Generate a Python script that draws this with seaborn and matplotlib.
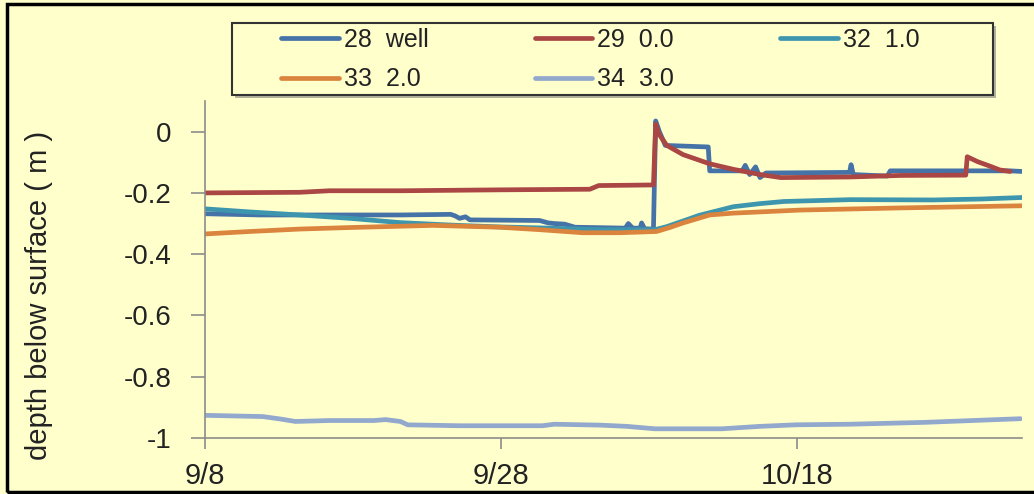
import numpy as np
import pandas as pd
import seaborn as sns
import matplotlib.pyplot as plt
import matplotlib.dates as mdates
from matplotlib.patches import Rectangle
from matplotlib.ticker import FuncFormatter

sns.set_theme(style="ticks")
plt.rcParams['font.family'] = ['Liberation Sans', 'DejaVu Sans']
plt.rcParams['axes.unicode_minus'] = False

bg = "#FFFFCC"
start = pd.Timestamp("2011-09-08")

# days after 9/8 and depth below surface (m)
days_28 = [0, 3.7, 8.4, 13.2, 16.6, 16.9, 17.2, 17.6, 17.9, 22.6, 23.2, 23.6, 24.3, 25.0,
           28.4, 28.6, 28.9, 29.4, 29.5, 29.7, 30.3, 30.45, 30.7, 31.1, 34.0, 34.1,
           36.3, 36.5, 36.8, 37.2, 37.5, 37.9, 43.55, 43.65, 43.8, 46.1, 46.3, 54.4, 55.2]
well_28 = [-0.268, -0.272, -0.272, -0.272, -0.270, -0.275, -0.283, -0.278, -0.288, -0.290,
           -0.298, -0.300, -0.302, -0.312, -0.315, -0.300, -0.315, -0.315, -0.298, -0.317,
           -0.318, 0.035, 0.0, -0.045, -0.050, -0.128, -0.128, -0.110, -0.140, -0.115,
           -0.150, -0.135, -0.133, -0.108, -0.140, -0.145, -0.128, -0.128, -0.130]

days_29 = [0, 6.4, 8.4, 13.2, 19.9, 26.0, 26.6, 30.3, 30.45, 30.7, 31.2, 32.3, 34.1, 35.7,
           37.5, 38.9, 43.6, 47.0, 51.4, 51.5, 52.2, 53.0, 53.7, 54.4]
d00_29 = [-0.200, -0.198, -0.193, -0.193, -0.190, -0.188, -0.176, -0.174, 0.025, -0.010,
          -0.045, -0.075, -0.105, -0.123, -0.140, -0.150, -0.148, -0.143, -0.142, -0.082,
          -0.098, -0.112, -0.125, -0.130]

days_32 = [0, 3.0, 6.4, 9.8, 13.2, 16.6, 19.9, 23.3, 26.7, 30.4, 31.2, 32.4, 33.4, 34.8,
           35.7, 37.5, 39.1, 43.6, 49.2, 52.4, 55.2]
d10_32 = [-0.252, -0.262, -0.272, -0.283, -0.297, -0.305, -0.311, -0.315, -0.320, -0.320,
          -0.310, -0.290, -0.273, -0.256, -0.245, -0.235, -0.228, -0.222, -0.223, -0.220,
          -0.215]

days_33 = [0, 3.0, 6.4, 9.8, 15.4, 19.9, 22.6, 25.5, 28.0, 30.5, 31.4, 32.3, 34.1, 35.7,
           40.2, 47.0, 55.2]
d20_33 = [-0.334, -0.326, -0.318, -0.313, -0.306, -0.312, -0.320, -0.330, -0.330, -0.326,
          -0.313, -0.298, -0.272, -0.266, -0.256, -0.249, -0.242]

days_34 = [0, 3.9, 5.1, 6.1, 8.4, 11.4, 12.2, 13.2, 13.7, 17.2, 22.8, 23.6, 26.7, 28.5,
           30.4, 34.9, 37.5, 39.9, 43.6, 48.6, 55.1]
d30_34 = [-0.926, -0.930, -0.938, -0.946, -0.943, -0.943, -0.940, -0.946, -0.957, -0.960,
          -0.960, -0.955, -0.958, -0.962, -0.970, -0.970, -0.962, -0.957, -0.955, -0.949,
          -0.937]

labels = ["28  well", "29  0.0", "32  1.0", "33  2.0", "34  3.0"]
colors = ["#4572A7", "#AA4643", "#3D96AE", "#DB843D", "#92A8CD"]

frames = []
for lab, d, v in zip(labels, [days_28, days_29, days_32, days_33, days_34],
                     [well_28, d00_29, d10_32, d20_33, d30_34]):
    frames.append(pd.DataFrame({"date": start + pd.to_timedelta(d, unit="D"),
                                "depth": v, "series": lab}))
df = pd.concat(frames, ignore_index=True)

fig = plt.figure(figsize=(10.34, 4.94), dpi=100, facecolor=bg)
ax = fig.add_axes([205 / 1034, 1 - 438 / 494, 817 / 1034, 337 / 494])
ax.set_facecolor(bg)

sns.lineplot(data=df, x="date", y="depth", hue="series", hue_order=labels,
             palette=dict(zip(labels, colors)), estimator=None, sort=True,
             linewidth=3.4, ax=ax)

ax.set_xlim(start, start + pd.Timedelta(days=55.2))
ax.set_ylim(-1, 0.1)
ax.set_xticks([start, start + pd.Timedelta(days=20), start + pd.Timedelta(days=40)])
ax.xaxis.set_major_formatter(mdates.DateFormatter("%-m/%-d"))
ax.set_yticks(np.arange(0, -1.01, -0.2))
ax.yaxis.set_major_formatter(FuncFormatter(lambda v, p: "%g" % round(v, 1)))

for s in ["top", "right"]:
    ax.spines[s].set_visible(False)
for s in ["left", "bottom"]:
    ax.spines[s].set_color("#8C8C8C")
    ax.spines[s].set_linewidth(1.2)
ax.tick_params(axis="both", colors="#8C8C8C", labelcolor="#222222", width=1.2)
ax.tick_params(axis="y", length=10, pad=14, labelsize=20)
ax.tick_params(axis="x", length=8, pad=9.5, labelsize=21)
ax.set_xlabel("")
ax.set_ylabel("depth below surface ( m )", fontsize=21, color="#222222")
ax.yaxis.set_label_coords(-0.186, 0.424)

# legend box with a small shadow, entries laid out in rows
fig.patches.append(Rectangle((235 / 1034, 1 - 98 / 494), 761 / 1034, 72 / 494,
                             transform=fig.transFigure, facecolor="#7F7F7F",
                             edgecolor="none", alpha=0.6, zorder=1))
fig.patches.append(Rectangle((232 / 1034, 1 - 95 / 494), 761 / 1034, 72 / 494,
                             transform=fig.transFigure, facecolor=bg,
                             edgecolor="#333333", linewidth=1.5, zorder=2))
handles, labs = ax.get_legend_handles_labels()
ax.get_legend().remove()
order = [0, 3, 1, 4, 2]
leg = fig.legend([handles[i] for i in order], [labs[i] for i in order], ncol=3,
                 frameon=False, loc="upper left", bbox_to_anchor=(281 / 1034, 1 - 28 / 494),
                 bbox_transform=fig.transFigure, borderaxespad=0, borderpad=0,
                 fontsize=18, handlelength=2.3, handletextpad=0.2, columnspacing=4.25,
                 labelspacing=0.62, labelcolor="#222222")
leg.set_zorder(5)

# outer chart frame
fig.patches.append(Rectangle((7 / 1034, 1 - 492 / 494), 1.1, 488 / 494,
                             transform=fig.transFigure, facecolor="none",
                             edgecolor="black", linewidth=2.5, zorder=3))

fig.savefig("out.png", dpi=100, facecolor=bg)
